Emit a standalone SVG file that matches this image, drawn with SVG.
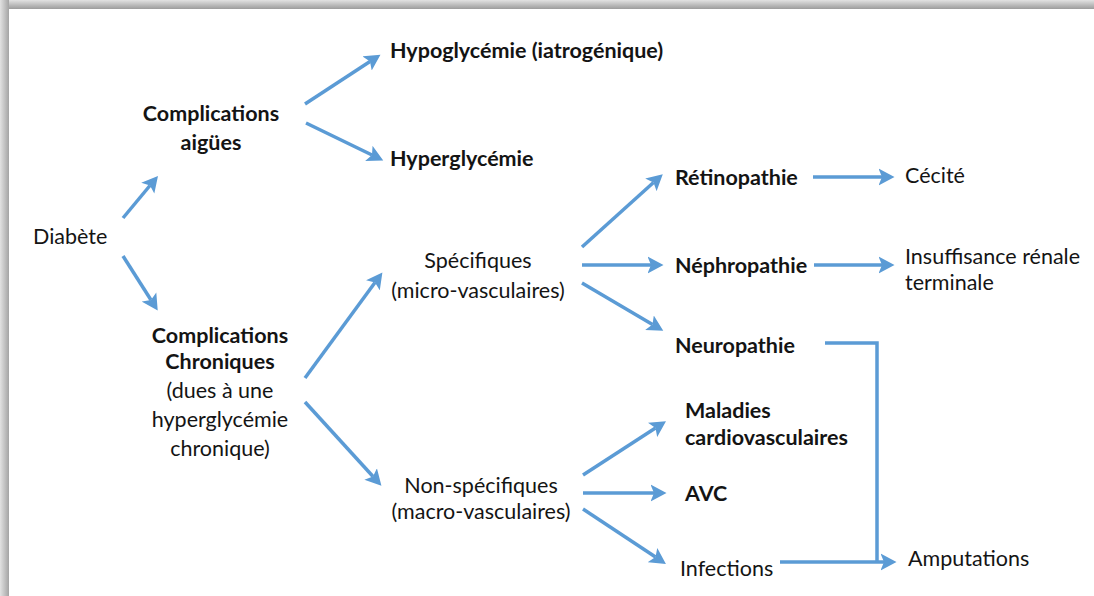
<svg xmlns="http://www.w3.org/2000/svg" width="1094" height="596" viewBox="0 0 1094 596">
<defs>
<linearGradient id="gTop" x1="0" y1="0" x2="0" y2="1"><stop offset="0" stop-color="#e2e2e2"/><stop offset="1" stop-color="#9c9c9c"/></linearGradient>
<linearGradient id="gLeft" x1="0" y1="0" x2="1" y2="0"><stop offset="0" stop-color="#e2e2e2"/><stop offset="1" stop-color="#a4a4a4"/></linearGradient>
<marker id="ah" markerUnits="userSpaceOnUse" markerWidth="18" markerHeight="18" refX="3.5" refY="8.5" orient="auto" viewBox="0 0 18 17">
<path d="M0,0 L16,8.5 L0,17 L3.5,8.5 Z" fill="#5b9bd5"/>
</marker>
<style>
.t{font-family:Lato,"Open Sans","Liberation Sans",sans-serif;font-size:21.5px;fill:#141414}
.b{font-weight:bold}
.c{text-anchor:middle}
.a{stroke:#5b9bd5;stroke-width:3.5;fill:none;marker-end:url(#ah)}
.l{stroke:#5b9bd5;stroke-width:3.5;fill:none}
</style>
</defs>
<rect x="0" y="0" width="1094" height="596" fill="#ffffff"/>
<rect x="0" y="0" width="1094" height="9" fill="url(#gTop)"/>
<rect x="0" y="0" width="9" height="596" fill="url(#gLeft)"/>
<rect x="9" y="9" width="1085" height="587" fill="#ffffff"/>
<g id="connectors">
<line class="a" x1="123" y1="218" x2="150" y2="185.5"/>
<line class="a" x1="123" y1="256" x2="151" y2="300"/>
<line class="a" x1="305" y1="104" x2="370" y2="61.5"/>
<line class="a" x1="306" y1="123" x2="372" y2="155"/>
<line class="a" x1="305" y1="378" x2="375" y2="282.5"/>
<line class="a" x1="305" y1="402" x2="373" y2="476.5"/>
<line class="a" x1="582" y1="247" x2="653.5" y2="182.5"/>
<line class="a" x1="582" y1="265" x2="651" y2="265"/>
<line class="a" x1="582" y1="283" x2="652.5" y2="324.5"/>
<line class="a" x1="813" y1="177" x2="882" y2="177"/>
<line class="a" x1="814" y1="265" x2="882" y2="265"/>
<line class="a" x1="583" y1="475" x2="655.5" y2="428"/>
<line class="a" x1="583" y1="493" x2="654" y2="493"/>
<line class="a" x1="583" y1="509" x2="655.5" y2="557"/>
<line class="a" x1="780" y1="562" x2="884" y2="562"/>
<path class="l" d="M825,343 H877 V562"/>
</g>
<g id="n-diabete"><text class="t" x="33" y="244">Diabète</text></g>
<g id="n-aigues"><text class="t b c" x="211" y="121">Complications</text><text class="t b c" x="211" y="150">aigües</text></g>
<g id="n-chroniques"><text class="t b c" x="220" y="343">Complications</text><text class="t b c" x="220" y="369">Chroniques</text><text class="t c" x="220" y="398">(dues à une</text><text class="t c" x="220" y="427">hyperglycémie</text><text class="t c" x="220" y="456">chronique)</text></g>
<g id="n-hypo"><text class="t b" x="390" y="58">Hypoglycémie (iatrogénique)</text></g>
<g id="n-hyper"><text class="t b" x="390" y="166">Hyperglycémie</text></g>
<g id="n-specifiques"><text class="t c" x="478" y="268">Spécifiques</text><text class="t c" x="478" y="298">(micro-vasculaires)</text></g>
<g id="n-nonspecifiques"><text class="t c" x="481" y="493">Non-spécifiques</text><text class="t c" x="481" y="519">(macro-vasculaires)</text></g>
<g id="n-retino"><text class="t b" x="675" y="185">Rétinopathie</text></g>
<g id="n-nephro"><text class="t b" x="675" y="273">Néphropathie</text></g>
<g id="n-neuro"><text class="t b" x="675" y="353">Neuropathie</text></g>
<g id="n-cecite"><text class="t" x="905" y="183">Cécité</text></g>
<g id="n-irt"><text class="t" x="905" y="264">Insuffisance rénale</text><text class="t" x="905" y="290">terminale</text></g>
<g id="n-maladies"><text class="t b" x="685" y="418">Maladies</text><text class="t b" x="685" y="445">cardiovasculaires</text></g>
<g id="n-avc"><text class="t b" x="685" y="501">AVC</text></g>
<g id="n-infections"><text class="t" x="680" y="576">Infections</text></g>
<g id="n-amputations"><text class="t" x="908" y="566">Amputations</text></g>
</svg>
